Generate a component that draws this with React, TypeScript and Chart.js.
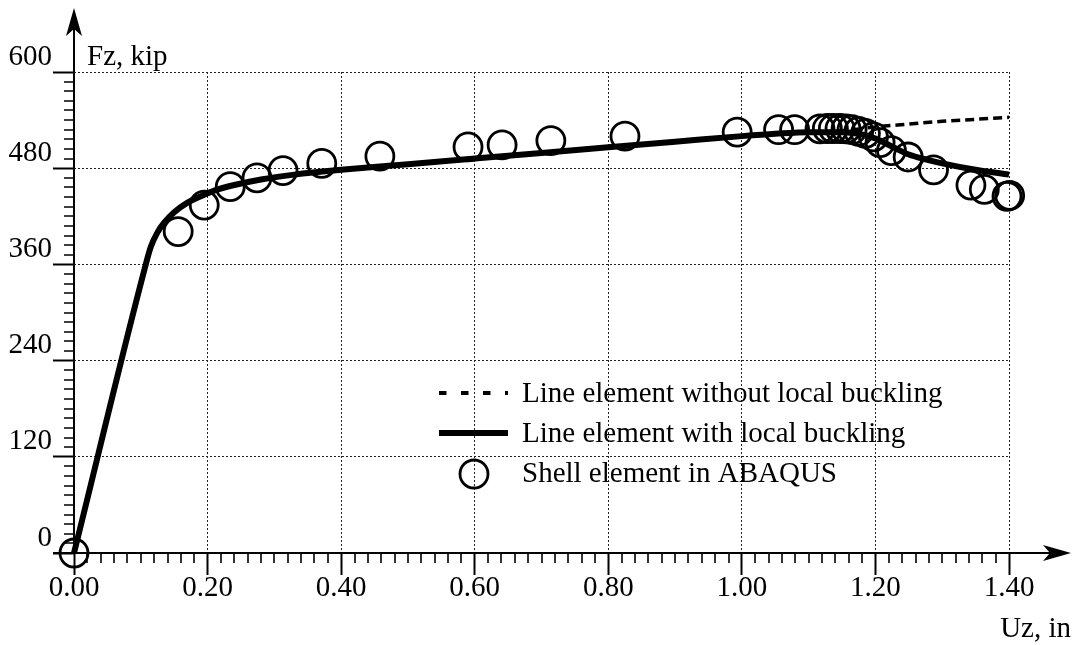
import React, { useEffect, useRef } from "react";
import { Chart, registerables } from "chart.js";

Chart.register(...registerables);

const FONT = "'Liberation Serif', 'Times New Roman', Times, serif";
const FS = 29;

// ---- data ----
const xTickValues = [0, 0.2, 0.4, 0.6, 0.8, 1.0, 1.2, 1.4];
const xTickLabels = ["0.00", "0.20", "0.40", "0.60", "0.80", "1.00", "1.20", "1.40"];
const yTickValues = [0, 120, 240, 360, 480, 600];
const yTickLabels = ["0", "120", "240", "360", "480", "600"];
const xMinorStep = 0.02;
const yMinorStep = 12;

const seriesLabels = [
  "Line element with local buckling",
  "Line element without local buckling",
  "Shell element in ABAQUS",
];

const solidX = [0, 0.105, 0.115, 0.125, 0.135, 0.15, 0.17, 0.19, 0.21, 0.24, 0.28, 0.33, 0.4, 0.5, 0.6, 0.7, 0.8, 0.9, 1.0, 1.05, 1.1, 1.15, 1.175, 1.2, 1.225, 1.25, 1.275, 1.3, 1.35, 1.4];
const solidY = [0, 352, 382, 400, 412, 425, 437, 445, 452, 459, 466, 472, 478, 485, 492, 499, 506, 513, 520, 523, 525, 525, 523, 517, 507, 497, 491, 486, 478, 472];

const dashedX = [1.0, 1.05, 1.1, 1.15, 1.2, 1.25, 1.3, 1.35, 1.4];
const dashedY = [520, 523, 525, 526.5, 531.5, 535, 538.5, 541, 543.5];

const shellX = [0, 0.156, 0.195, 0.234, 0.274, 0.313, 0.371, 0.458, 0.59, 0.641, 0.714, 0.825, 0.993, 1.055, 1.079, 1.117, 1.128, 1.137, 1.147, 1.156, 1.165, 1.175, 1.185, 1.197, 1.207, 1.224, 1.249, 1.287, 1.343, 1.363, 1.397, 1.401];
const shellY = [0, 401, 434, 457, 468, 477, 486, 495, 506.5, 509, 514.5, 520, 525, 528, 528, 529, 529.5, 529.5, 529.5, 529, 528, 526, 523.5, 519, 512, 502, 494, 478, 459, 453.5, 445, 446];

const xTitle = "Uz, in";
const yTitle = "Fz, kip";

const toPts = (xs: number[], ys: number[]) => xs.map((x, i) => ({ x, y: ys[i] }));

const decorPlugin = {
  id: "decor",
  afterDraw(chart: any) {
    const { ctx, scales, chartArea } = chart;
    const xs = scales.x;
    const ys = scales.y;
    const x0 = xs.getPixelForValue(0);
    const y0 = ys.getPixelForValue(0);
    ctx.save();
    ctx.strokeStyle = "#000";
    ctx.fillStyle = "#000";
    ctx.setLineDash([]);

    // minor ticks
    ctx.lineWidth = 1.6;
    ctx.beginPath();
    const nx = Math.round(1.4 / xMinorStep);
    for (let i = 1; i < nx; i++) {
      if (i % 10 === 0) continue;
      const px = Math.round(xs.getPixelForValue(i * xMinorStep));
      ctx.moveTo(px, y0);
      ctx.lineTo(px, y0 + 10);
    }
    const ny = Math.round(600 / yMinorStep);
    for (let i = 1; i < ny; i++) {
      if (i % 10 === 0) continue;
      const py = Math.round(ys.getPixelForValue(i * yMinorStep));
      ctx.moveTo(x0 - 10, py);
      ctx.lineTo(x0, py);
    }
    ctx.stroke();

    // axes
    ctx.lineWidth = 2;
    ctx.beginPath();
    ctx.moveTo(x0 - 21, y0);
    ctx.lineTo(1052, y0);
    ctx.moveTo(x0, y0);
    ctx.lineTo(x0, 28);
    ctx.stroke();
    // arrows
    ctx.beginPath();
    ctx.moveTo(1071, y0);
    ctx.lineTo(1043, y0 - 8);
    ctx.lineTo(1050, y0);
    ctx.lineTo(1043, y0 + 8);
    ctx.closePath();
    ctx.fill();
    ctx.beginPath();
    ctx.moveTo(x0, 8);
    ctx.lineTo(x0 - 8, 36);
    ctx.lineTo(x0, 29);
    ctx.lineTo(x0 + 8, 36);
    ctx.closePath();
    ctx.fill();

    // titles
    ctx.font = `${FS}px ${FONT}`;
    ctx.textBaseline = "alphabetic";
    ctx.textAlign = "left";
    ctx.fillText(yTitle, chartArea.left + 13, 65);
    ctx.textAlign = "right";
    ctx.fillText(xTitle, 1071, 637);

    // legend
    const ds = chart.data.datasets;
    ctx.textAlign = "left";
    const lx0 = 439;
    const lx1 = 508;
    const tx = 522;
    // dashed
    ctx.lineWidth = 4;
    ctx.setLineDash([7.5, 14.5]);
    ctx.beginPath();
    ctx.moveTo(lx0, 393);
    ctx.lineTo(lx1, 393);
    ctx.stroke();
    ctx.setLineDash([]);
    ctx.fillText(ds[1].label, tx, 402);
    // solid
    ctx.lineWidth = 6;
    ctx.beginPath();
    ctx.moveTo(lx0, 433);
    ctx.lineTo(lx1, 433);
    ctx.stroke();
    ctx.fillText(ds[0].label, tx, 442);
    // circle
    ctx.lineWidth = 2.8;
    ctx.beginPath();
    ctx.arc(474, 474, 14, 0, Math.PI * 2);
    ctx.stroke();
    ctx.fillText(ds[2].label, tx, 482);
    ctx.restore();
  },
};

export default function App() {
  const ref = useRef<HTMLCanvasElement | null>(null);
  useEffect(() => {
    if (!ref.current) return;
    const chart = new Chart(ref.current, {
      type: "line",
      data: {
        datasets: [
          {
            label: seriesLabels[0],
            data: toPts(solidX, solidY),
            borderColor: "#000",
            borderWidth: 6,
            pointRadius: 0,
            cubicInterpolationMode: "monotone",
            fill: false,
            clip: false,
          },
          {
            label: seriesLabels[1],
            data: toPts(dashedX, dashedY),
            borderColor: "#000",
            borderWidth: 3.5,
            borderDash: [9, 5],
            pointRadius: 0,
            cubicInterpolationMode: "monotone",
            fill: false,
            clip: false,
          },
          {
            label: seriesLabels[2],
            data: toPts(shellX, shellY),
            showLine: false,
            borderColor: "#000",
            backgroundColor: "rgba(0,0,0,0)",
            pointRadius: 14,
            pointBorderWidth: 2.8,
            pointBorderColor: "#000",
            pointBackgroundColor: "rgba(0,0,0,0)",
            clip: false,
          } as any,
        ],
      },
      options: {
        animation: false,
        responsive: false,
        maintainAspectRatio: false,
        devicePixelRatio: 1,
        layout: { padding: { top: 72, right: 71, left: 0, bottom: 0 } },
        plugins: { legend: { display: false }, tooltip: { enabled: false } },
        events: [],
        scales: {
          x: {
            type: "linear",
            min: 0,
            max: 1.4,
            position: "bottom",
            afterFit: (s: any) => {
              s.height = 92;
            },
            afterBuildTicks: (s: any) => {
              s.ticks = xTickValues.map((v) => ({ value: v }));
            },
            ticks: {
              callback: (_v: any, i: number) => xTickLabels[i],
              font: { family: FONT, size: FS, lineHeight: 1 },
              color: "#000",
              padding: -1,
              maxRotation: 0,
              autoSkip: false,
            },
            grid: {
              color: "#222",
              lineWidth: 1,
              tickLength: 22,
              tickWidth: 2,
              tickColor: "#000",
            },
            border: { display: false, dash: [2, 2] },
          },
          y: {
            type: "linear",
            min: 0,
            max: 600,
            position: "left",
            afterFit: (s: any) => {
              s.width = 74;
            },
            afterBuildTicks: (s: any) => {
              s.ticks = yTickValues.map((v) => ({ value: v }));
            },
            ticks: {
              callback: (_v: any, i: number) => yTickLabels[i],
              font: { family: FONT, size: FS },
              color: "#000",
              padding: 1,
              labelOffset: -15,
              autoSkip: false,
            },
            grid: {
              color: "#222",
              lineWidth: 1,
              tickLength: 21,
              tickWidth: 2,
              tickColor: "#000",
            },
            border: { display: false, dash: [2, 2] },
          },
        },
      } as any,
      plugins: [decorPlugin],
    });
    return () => chart.destroy();
  }, []);
  return (
    <div style={{ position: "absolute", left: 0, top: 0, width: 1080, height: 645, background: "#fff" }}>
      <canvas ref={ref} width={1080} height={645} style={{ width: 1080, height: 645, display: "block" }} />
    </div>
  );
}
